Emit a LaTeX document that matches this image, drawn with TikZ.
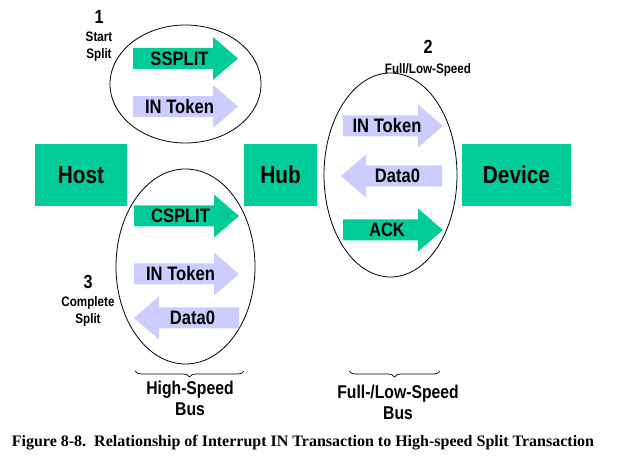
\documentclass[tikz,border=0pt]{standalone}
\usepackage{fontspec}
\usetikzlibrary{shapes.geometric,decorations.pathreplacing}
\newfontfamily\narrowsans{Liberation Sans Bold}[FakeStretch=0.85]
\newfontfamily\capserif{Liberation Serif}
\definecolor{usbgreen}{HTML}{00CC99}
\definecolor{usblav}{HTML}{CCCCFF}

% packet arrows: name, tail x, centre y, length, colour, label
\newcommand{\pktright}[6]{%
  \fill[#5] (#2,#3) ++(0,-10.5) -- ++(#4-25,0) -- ++(0,-11) -- ++(25,21.5)
    -- ++(-25,21.5) -- ++(0,-11) -- ++(-#4+25,0) -- cycle;
  \node[pkt] (#1) at (#2+#4/2-6,#3) {#6};}
\newcommand{\pktleft}[6]{%
  \fill[#5] (#2,#3) ++(0,-10.5) -- ++(-#4+25,0) -- ++(0,-11) -- ++(-25,21.5)
    -- ++(25,21.5) -- ++(0,-11) -- ++(#4-25,0) -- cycle;
  \node[pkt] (#1) at (#2-#4/2+6,#3) {#6};}

\begin{document}
\begin{tikzpicture}[
  x=1pt, y=-1pt,
  unit/.style={fill=usbgreen, minimum width=#1, minimum height=62, inner sep=0,
    font=\narrowsans\fontsize{24.5}{29}\selectfont},
  ring/.style={draw, ellipse, inner sep=0, line width=0.8pt},
  pkt/.style={inner sep=0, font=\narrowsans\fontsize{19.5}{22}\selectfont},
  phase/.style={align=center, inner sep=0, font=\narrowsans\fontsize{13.7}{17}\selectfont},
  num/.style={inner sep=0, font=\narrowsans\fontsize{19}{22}\selectfont},
  buslbl/.style={align=center, inner sep=0, font=\narrowsans\fontsize{18.5}{21}\selectfont},
  bracket/.style={decorate, decoration={brace, amplitude=6pt}, line width=0.7pt},
]
\useasboundingbox (0,0) rectangle (627,457);

% devices
\node[unit=92] (host) at (81,175) {Host};
\node[unit=73] (hub) at (280.5,175) {Hub};
\node[unit=109] (device) at (516.5,175) {Device};

% transaction phases
\node[ring, minimum width=151, minimum height=118] (start) at (185.5,84) {};
\node[ring, minimum width=133, minimum height=204] (fsls) at (390.5,175) {};
\node[ring, minimum width=139, minimum height=195] (complete) at (185.5,266.5) {};

% start split
\pktright{ssplit}{133}{58.5}{105}{usbgreen}{SSPLIT}
\pktright{intok1}{133}{106.5}{105}{usblav}{IN Token}
\node[num] (n1) at (99,17) {1};
\node[phase] (startlbl) at (99,46.5) {Start\\Split};

% full/low-speed transaction
\pktright{intok2}{343}{126}{100}{usblav}{IN Token}
\pktleft{data2}{442}{176}{101}{usblav}{Data0}
\pktright{ack}{343}{230}{100}{usbgreen}{ACK}
\node[num] (n2) at (428,47) {2};
\node[phase] (fslbl) at (428,70) {Full/Low-Speed};

% complete split
\pktright{csplit}{134}{216}{105}{usbgreen}{CSPLIT}
\pktright{intok3}{134}{274}{105}{usblav}{IN Token}
\pktleft{data3}{239}{318}{105}{usblav}{Data0}
\node[num] (n3) at (88,282) {3};
\node[phase] (completelbl) at (88,311.5) {Complete\\Split};

% buses
\coordinate (hsR) at (244,371);
\coordinate (hsL) at (135,371);
\coordinate (fsR) at (440,371);
\coordinate (fsL) at (349,371);
\draw[bracket] (hsR) -- (hsL);
\draw[bracket] (fsR) -- (fsL);
\node[buslbl] (hsbus) at (190,398) {High-Speed\\Bus};
\node[buslbl] (fsbus) at (398,402.5) {Full-/Low-Speed\\Bus};

\node[inner sep=0, font=\capserif\bfseries\fontsize{16}{19}\selectfont] (caption) at (303,443)
  {Figure 8-8.\ \ Relationship of Interrupt IN Transaction to High-speed Split Transaction};

\end{tikzpicture}
\end{document}
